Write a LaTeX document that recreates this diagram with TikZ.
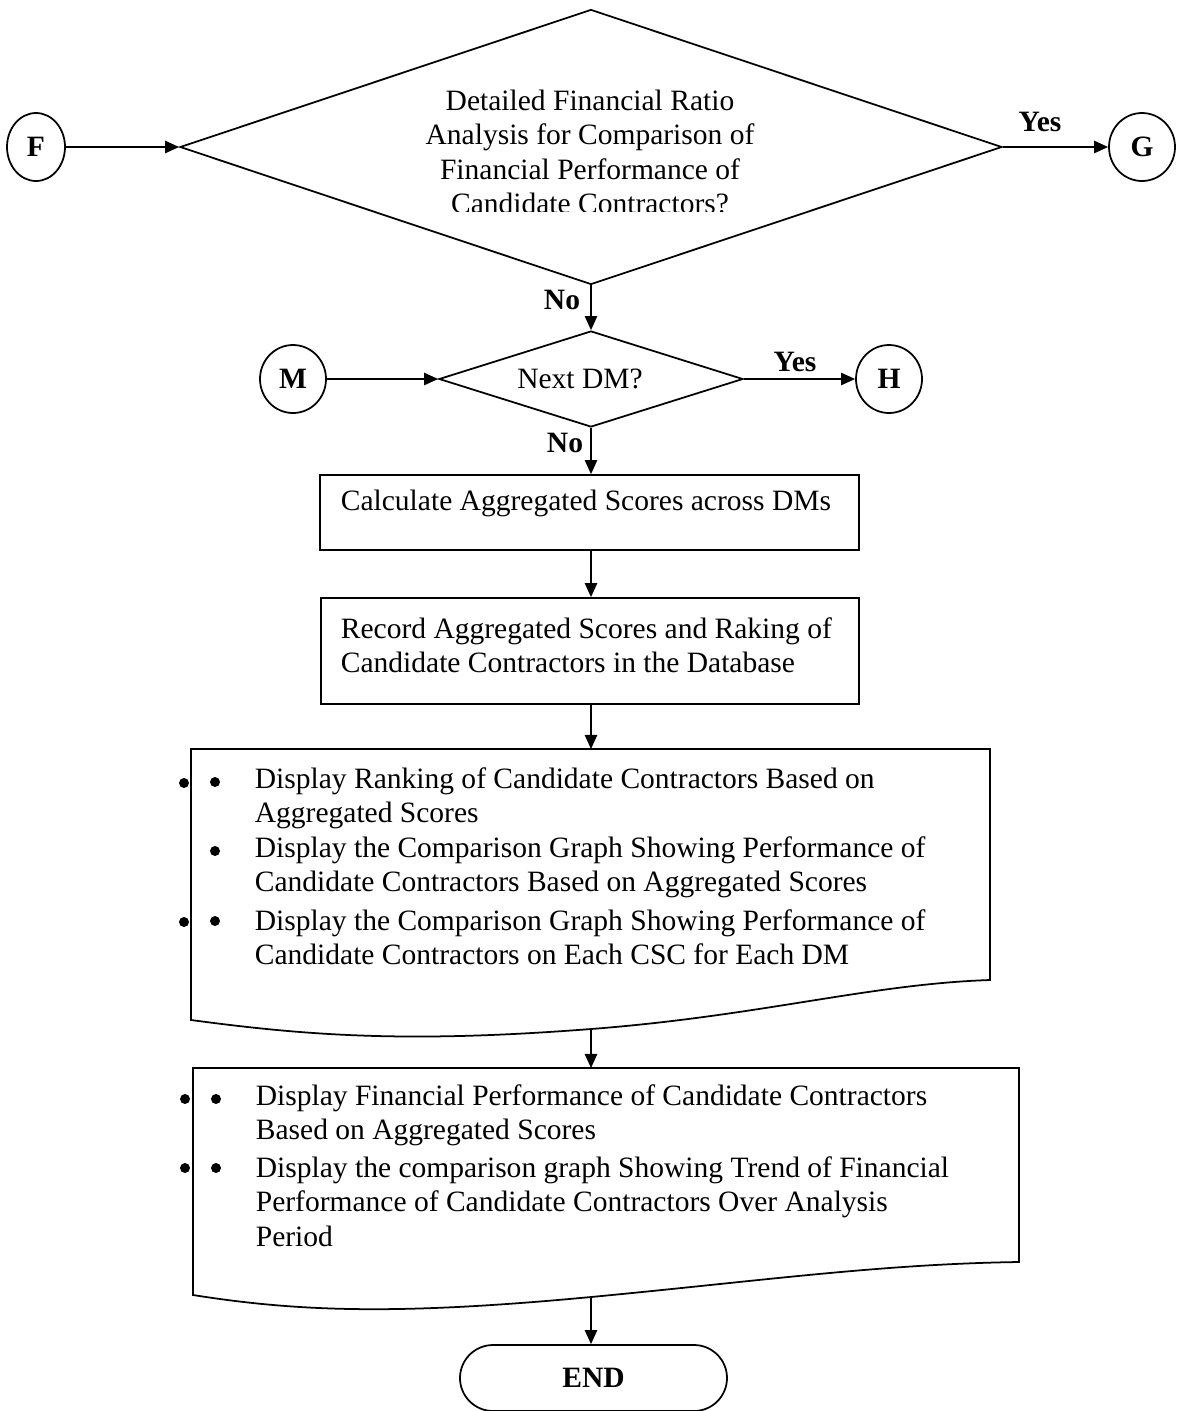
\documentclass[tikz,border=0pt]{standalone}
\usepackage{fontspec}
\setmainfont{Liberation Serif}
\usetikzlibrary{arrows.meta,shapes.geometric}
\begin{document}
\begin{tikzpicture}[x=0.02cm,y=-0.02cm,line width=1pt,
  conn/.style={draw,line width=1pt,-{Triangle[length=8pt,width=7pt]}},
  txt/.style={font=\fontsize{16.8}{19.6}\selectfont,inner sep=0pt,align=left},
  lbl/.style={font=\fontsize{16.8}{19.6}\selectfont\bfseries,inner sep=0pt},
  offpage/.style={draw,ellipse,minimum width=66*0.02cm,minimum height=68*0.02cm,
    inner sep=0pt,font=\fontsize{16.8}{19.6}\selectfont\bfseries},
  decision/.style={draw,diamond,inner sep=0pt},
  procbox/.style={draw,rectangle,inner sep=0pt},
  dot/.style={fill,circle,inner sep=0pt,minimum size=10*0.02cm}]
\useasboundingbox (0,0) rectangle (1182,1411);

% decision: financial ratio analysis
\node[decision,minimum width=822*0.02cm,minimum height=275*0.02cm] (fin) at (591,147) {};
\begin{scope}
  \clip (300,70) rectangle (880,211);
  \node[txt,align=center] (fintext) at (590,152)
    {Detailed Financial Ratio\\Analysis for Comparison of\\Financial Performance of\\Candidate Contractors?};
\end{scope}

% off-page connectors
\node[offpage,minimum width=58*0.02cm] (F) at (36,147) {F};
\node[offpage] (G) at (1142,147) {G};
\node[offpage] (M) at (293,379) {M};
\node[offpage] (H) at (889,379) {H};

% decision: next DM
\node[decision,minimum width=304*0.02cm,minimum height=96*0.02cm] (dm) at (591,379) {};
\node[txt] (dmtext) at (580,379) {Next DM?};

% process boxes
\node[procbox,minimum width=539*0.02cm,minimum height=75*0.02cm] (calc) at (589.5,512.5) {};
\node[txt,anchor=west] (calctext) at (340,503) {Calculate Aggregated Scores across DMs};
\node[procbox,minimum width=538*0.02cm,minimum height=106*0.02cm] (rec) at (590,651) {};
\node[txt,anchor=west] (rectext) at (340,645)
  {Record Aggregated Scores and Raking of\\Candidate Contractors in the Database};

% display document 1
\coordinate (d1top) at (591,749);
\coordinate (d1bot) at (591,1029);
\draw (191,749) -- (990,749) -- (990,980)
  .. controls (870,984) and (760,1016) .. (d1bot)
  .. controls (410,1043) and (310,1036) .. (191,1020) -- cycle;
\node[dot] (b11) at (215,782) {};
\node[dot] (b12) at (215,851) {};
\node[dot] (b13) at (215,921) {};
\node[dot] (e11) at (184,783) {};
\node[dot] (e12) at (184,922) {};
\node[txt,anchor=west] (t11) at (254,798)
  {Display Ranking of Candidate Contractors Based on\\Aggregated Scores};
\node[txt,anchor=west] (t12) at (254,867)
  {Display the Comparison Graph Showing Performance of\\Candidate Contractors Based on Aggregated Scores};
\node[txt,anchor=west] (t13) at (254,937.5)
  {Display the Comparison Graph Showing Performance of\\Candidate Contractors on Each CSC for Each DM};

% display document 2
\coordinate (d2top) at (591,1068);
\coordinate (d2bot) at (591,1297);
\draw (193,1068) -- (1019,1068) -- (1019,1262)
  .. controls (880,1264) and (760,1281) .. (d2bot)
  .. controls (400,1315) and (300,1312) .. (193,1295) -- cycle;
\node[dot] (b21) at (216,1099) {};
\node[dot] (b22) at (216,1168) {};
\node[dot] (e21) at (185,1099) {};
\node[dot] (e22) at (185,1168) {};
\node[txt,anchor=west] (t21) at (255,1115)
  {Display Financial Performance of Candidate Contractors\\Based on Aggregated Scores};
\node[txt,anchor=west] (t22) at (255,1201.5)
  {Display the comparison graph Showing Trend of Financial\\Performance of Candidate Contractors Over Analysis\\Period};

% terminal
\node[draw,rectangle,rounded corners=33*0.02cm,minimum width=267*0.02cm,
  minimum height=66*0.02cm,inner sep=0pt,
  font=\fontsize{16.8}{19.6}\selectfont\bfseries] (endn) at (593.5,1378) {END};

% connectors
\draw[conn] (F.east) -- (fin.west);
\draw[conn] (fin.east) -- (G.west);
\draw[conn] (fin.south) -- (dm.north);
\draw[conn] (M.east) -- (dm.west);
\draw[conn] (dm.east) -- (H.west);
\draw[conn] (dm.south) -- (calc.north -| dm.south);
\draw[conn] (calc.south -| dm.south) -- (rec.north -| dm.south);
\draw[conn] (rec.south -| dm.south) -- (d1top);
\draw[conn] (d1bot) -- (d2top);
\draw[conn] (d2bot) -- (endn.north -| d2bot);

% branch labels
\node[lbl] (yes1) at (1040,122) {Yes};
\node[lbl] (no1) at (562,300) {No};
\node[lbl] (yes2) at (795,362) {Yes};
\node[lbl] (no2) at (565,443) {No};
\end{tikzpicture}
\end{document}
